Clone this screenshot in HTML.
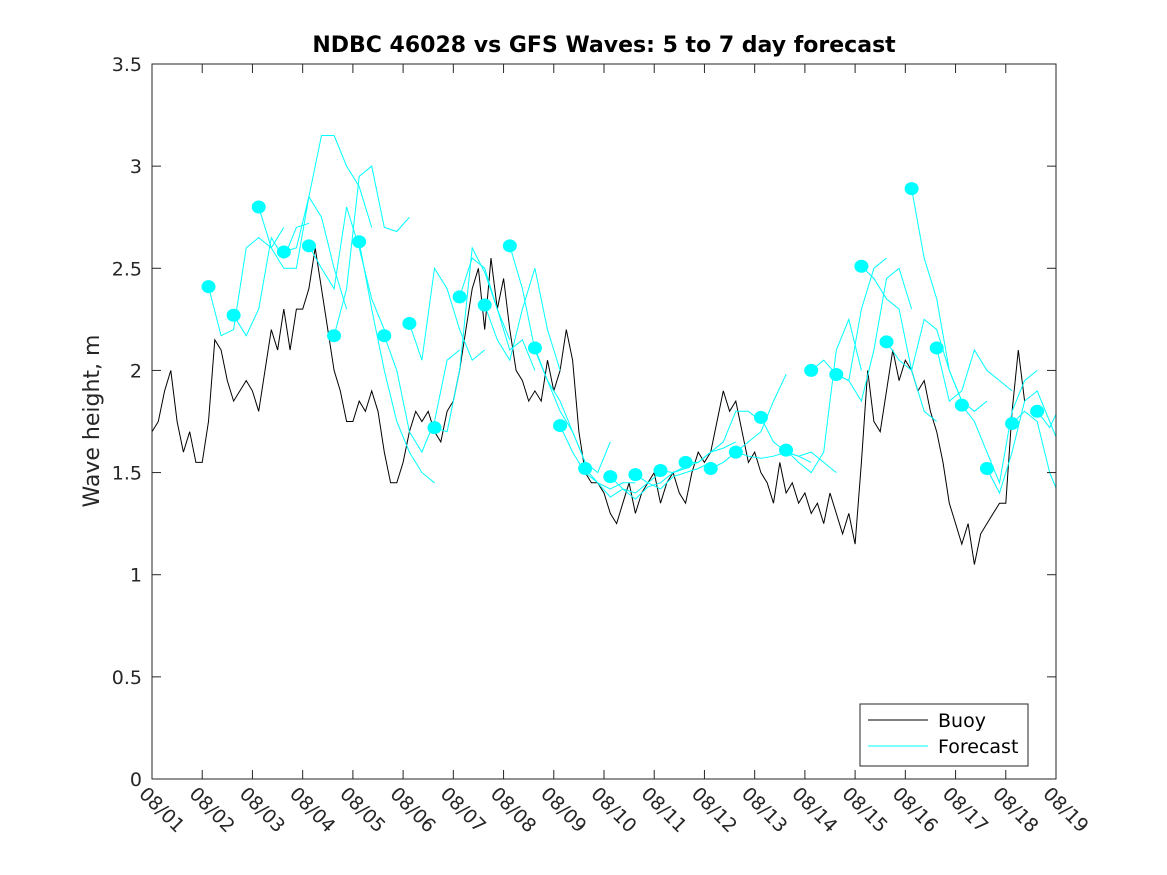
<!DOCTYPE html>
<html><head><meta charset="utf-8"><style>
body{margin:0;background:#fff;}
svg{display:block;font-family:"DejaVu Sans","Liberation Sans",sans-serif;}
</style></head><body>
<svg id="chart" width="1167" height="875" viewBox="0 0 1167 875">
<rect width="1167" height="875" fill="#fff"/>
<text x="604" y="52" text-anchor="middle" font-size="22" font-weight="bold" fill="#000">NDBC 46028 vs GFS Waves: 5 to 7 day forecast</text>
<text transform="translate(99,421) rotate(-90)" text-anchor="middle" font-size="22" fill="#262626">Wave height, m</text>
<g id="plot"></g>
<g id="axes"></g>
<g>
<rect x="860" y="704" width="168" height="62" fill="#fff" stroke="#262626" stroke-width="1"/>
<line x1="868" y1="720" x2="928" y2="720" stroke="#000" stroke-width="1"/>
<text x="938" y="727" font-size="19" fill="#000">Buoy</text>
<line x1="868" y1="746" x2="928" y2="746" stroke="#00ffff" stroke-width="1"/>
<text x="938" y="753" font-size="19" fill="#000">Forecast</text>
</g>
</svg>
<script>
const xTickLabels = ["08/01","08/02","08/03","08/04","08/05","08/06","08/07","08/08","08/09","08/10","08/11","08/12","08/13","08/14","08/15","08/16","08/17","08/18","08/19"];
const yTickValues = [0,0.5,1,1.5,2,2.5,3,3.5];
const yTickLabels = ["0","0.5","1","1.5","2","2.5","3","3.5"];
// Buoy observations, 3-hourly from 08/01 00:00
const buoyValues = [
1.7,1.75,1.9,2.0,1.75,1.6,1.7,1.55,
1.55,1.75,2.15,2.1,1.95,1.85,1.9,1.95,
1.9,1.8,2.0,2.2,2.1,2.3,2.1,2.3,
2.3,2.4,2.6,2.4,2.2,2.0,1.9,1.75,
1.75,1.85,1.8,1.9,1.8,1.6,1.45,1.45,
1.55,1.7,1.8,1.75,1.8,1.7,1.65,1.8,
1.85,2.0,2.2,2.4,2.5,2.2,2.55,2.3,
2.45,2.2,2.0,1.95,1.85,1.9,1.85,2.05,
1.9,2.0,2.2,2.05,1.7,1.5,1.45,1.45,
1.4,1.3,1.25,1.35,1.45,1.3,1.4,1.45,
1.5,1.35,1.45,1.5,1.4,1.35,1.5,1.6,
1.55,1.6,1.75,1.9,1.8,1.85,1.7,1.55,
1.6,1.5,1.45,1.35,1.55,1.4,1.45,1.35,
1.4,1.3,1.35,1.25,1.4,1.3,1.2,1.3,
1.15,1.55,2.0,1.75,1.7,1.9,2.1,1.95,
2.05,2.0,1.9,1.95,1.8,1.7,1.55,1.35,
1.25,1.15,1.25,1.05,1.2,1.25,1.3,1.35,
1.35,1.8,2.1,1.85];
// Forecast start values (dots), every 12h from 08/02 03:00
const forecastStartDay = 1.125;
const forecastDots = [2.41,2.27,2.80,2.58,2.61,2.17,2.63,2.17,2.23,1.72,2.36,2.32,2.61,2.11,1.73,1.52,1.48,1.49,1.51,1.55,1.52,1.60,1.77,1.61,2.00,1.98,2.51,2.14,2.89,2.11,1.83,1.52,1.74,1.80];
// Each forecast run, 6-hourly values
const forecastRuns = [
[2.41,2.17,2.2,2.6,2.65,2.6,2.7],
[2.27,2.17,2.3,2.65,2.55,2.7,2.72],
[2.80,2.6,2.5,2.5,2.85,2.75,2.5,2.3],
[2.58,2.6,2.85,3.15,3.15,3.0,2.9,2.7],
[2.61,2.5,2.4,2.8,2.6,2.35,2.2],
[2.17,2.4,2.95,3.0,2.7,2.68,2.75],
[2.63,2.3,2.0,1.75,1.6,1.5,1.45],
[2.17,2.0,1.7,1.6,1.75,2.05,2.1],
[2.23,2.05,2.5,2.4,2.2,2.05,2.1],
[1.72,1.7,2.0,2.6,2.48,2.3,2.15],
[2.36,2.55,2.5,2.3,2.1,2.15,2.0],
[2.32,2.15,2.05,2.3,2.5,2.2,2.0],
[2.61,2.4,2.1,1.95,1.8,1.7,1.55],
[2.11,1.95,1.85,1.7,1.55,1.5,1.65],
[1.73,1.6,1.5,1.45,1.42,1.45,1.45],
[1.52,1.45,1.38,1.42,1.4,1.45,1.5],
[1.48,1.42,1.37,1.43,1.45,1.5,1.52],
[1.49,1.45,1.42,1.48,1.5,1.52,1.55],
[1.51,1.5,1.53,1.55,1.6,1.62,1.65],
[1.55,1.55,1.6,1.65,1.8,1.8,1.75],
[1.52,1.55,1.6,1.65,1.7,1.85,1.98],
[1.60,1.58,1.57,1.58,1.6,1.58,1.55],
[1.77,1.65,1.6,1.58,1.6,1.55,1.5],
[1.61,1.55,1.5,1.6,2.1,2.25,2.0],
[2.00,2.05,1.98,1.95,2.3,2.5,2.55],
[1.98,1.95,1.85,2.1,2.45,2.5,2.3],
[2.51,2.45,2.35,2.3,2.0,1.8,1.75],
[2.14,2.05,2.0,2.25,2.2,2.0,1.85],
[2.89,2.55,2.35,2.0,1.85,1.8,1.85],
[2.11,1.85,1.9,2.1,2.0,1.95,1.9],
[1.83,1.75,1.6,1.45,1.8,1.95,2.0],
[1.52,1.4,1.6,1.85,1.9,1.75,1.6],
[1.74,1.8,1.75,1.5,1.35,1.4,1.5],
[1.80,1.72,1.85,2.05]];

const X0=152,X1=1056,Y0=779,Y1=64,DAYS=18,YMAX=3.5;
const NS="http://www.w3.org/2000/svg";
function xs(d){return X0+(X1-X0)*d/DAYS;}
function ys(v){return Y0-(Y0-Y1)*v/YMAX;}
function mk(tag,attrs,parent){const e=document.createElementNS(NS,tag);for(const k in attrs)e.setAttribute(k,attrs[k]);parent.appendChild(e);return e;}
const plot=document.getElementById('plot');
const axes=document.getElementById('axes');
const defs=mk('defs',{},plot);
const cp=mk('clipPath',{id:'clip'},defs);
mk('rect',{x:X0,y:Y1,width:X1-X0,height:Y0-Y1},cp);
const g=mk('g',{'clip-path':'url(#clip)'},plot);

const bp=buoyValues.map((v,i)=>xs(i*0.125).toFixed(1)+','+ys(v).toFixed(1)).join(' ');
const buoy=mk('polyline',{points:bp,fill:'none',stroke:'#000','stroke-width':1},g);



forecastRuns.forEach((run,i)=>{
  const t0=forecastStartDay+0.5*i;
  const pts=run.map((v,k)=>xs(t0+0.25*k).toFixed(1)+','+ys(v).toFixed(1)).join(' ');
  const pl=mk('polyline',{points:pts,fill:'none',stroke:'#00ffff','stroke-width':1},g);
  
  
});
forecastDots.forEach((v,i)=>{
  const c=mk('ellipse',{cx:xs(forecastStartDay+0.5*i),cy:ys(v),rx:7,ry:6.5,fill:'#00ffff'},g);
  
  
});

const fr=mk('rect',{x:X0,y:Y1,width:X1-X0,height:Y0-Y1,fill:'none',stroke:'#262626','stroke-width':1},axes);


yTickValues.forEach((v,i)=>{
  const y=ys(v);
  mk('line',{x1:X0,y1:y,x2:X0+9,y2:y,stroke:'#262626'},axes);
  mk('line',{x1:X1,y1:y,x2:X1-9,y2:y,stroke:'#262626'},axes);
  const t=mk('text',{x:X0-10,y:y+7,'text-anchor':'end','font-size':19,fill:'#262626'},axes);
  t.textContent=yTickLabels[i];
  
  
});
xTickLabels.forEach((lab,i)=>{
  const x=xs(i);
  mk('line',{x1:x,y1:Y0,x2:x,y2:Y0-9,stroke:'#262626'},axes);
  mk('line',{x1:x,y1:Y1,x2:x,y2:Y1+9,stroke:'#262626'},axes);
  const t=mk('text',{transform:`translate(${x-14},${Y0+16}) rotate(45)`,'font-size':19,fill:'#262626'},axes);
  t.textContent=lab;
  
  
});
</script>
</body></html>
